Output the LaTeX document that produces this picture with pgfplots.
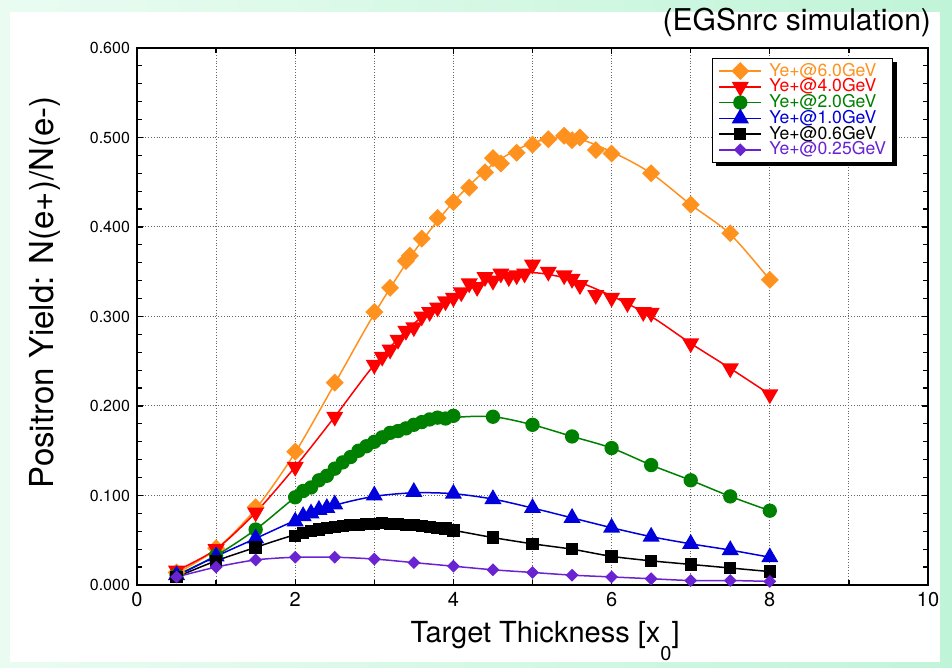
\documentclass[border=0pt]{standalone}
\usepackage{fontspec}
\setmainfont{TeX Gyre Heros}
\usepackage{pgfplots}
\pgfplotsset{compat=1.18}

\definecolor{cOrange}{RGB}{255,145,30}
\definecolor{cRed}{RGB}{255,0,0}
\definecolor{cGreen}{RGB}{0,128,0}
\definecolor{cBlue}{RGB}{0,0,220}
\definecolor{cPurple}{RGB}{105,35,210}
\definecolor{mintA}{RGB}{234,252,242}
\definecolor{mintB}{RGB}{192,244,216}

\pgfplotsset{
  sOrange/.style={cOrange, line width=0.75pt, mark=square*, mark size=2.8pt, mark options={rotate=45, solid}},
  sRed/.style={cRed, line width=0.75pt, mark=triangle*, mark size=4.2pt, mark options={rotate=180, solid}},
  sGreen/.style={cGreen, line width=0.75pt, mark=*, mark size=3.2pt, mark options={solid}},
  sBlue/.style={cBlue, line width=0.75pt, mark=triangle*, mark size=4.2pt, mark options={solid}},
  sBlack/.style={black, line width=0.75pt, mark=square*, mark size=2.7pt, mark options={solid}},
  sPurple/.style={cPurple, line width=0.75pt, mark=square*, mark size=1.9pt, mark options={rotate=45, solid}},
}

% measured points
\pgfplotstableread{
x y
0.5 0.014
1.0 0.041
1.5 0.087
2.0 0.149
2.5 0.226
3.0 0.305
3.2 0.332
3.4 0.362
3.45 0.368
3.6 0.387
3.8 0.410
4.0 0.428
4.2 0.444
4.4 0.461
4.5 0.477
4.6 0.471
4.8 0.483
5.0 0.492
5.2 0.498
5.4 0.502
5.5 0.497
5.6 0.500
5.8 0.486
6.0 0.482
6.5 0.460
7.0 0.425
7.5 0.393
8.0 0.341
}\ptsOrange

\pgfplotstableread{
x y
0.5 0.016
1.0 0.040
1.5 0.081
2.0 0.132
2.5 0.188
3.0 0.246
3.1 0.255
3.2 0.263
3.3 0.274
3.4 0.284
3.5 0.288
3.6 0.300
3.7 0.305
3.8 0.310
3.9 0.317
4.0 0.321
4.1 0.327
4.2 0.337
4.3 0.333
4.4 0.344
4.5 0.340
4.6 0.348
4.7 0.344
4.8 0.346
4.9 0.348
5.0 0.358
5.2 0.350
5.4 0.346
5.5 0.342
5.6 0.335
5.8 0.324
6.0 0.321
6.2 0.315
6.4 0.305
6.5 0.304
7.0 0.270
7.5 0.242
8.0 0.213
}\ptsRed

\pgfplotstableread{
x y
0.5 0.011
1.0 0.033
1.5 0.062
2.0 0.098
2.1 0.105
2.2 0.109
2.3 0.117
2.4 0.122
2.5 0.130
2.6 0.137
2.7 0.143
2.8 0.150
2.9 0.155
3.0 0.160
3.1 0.165
3.2 0.170
3.3 0.172
3.4 0.175
3.5 0.179
3.6 0.182
3.7 0.185
3.8 0.187
3.9 0.186
4.0 0.189
4.5 0.188
5.0 0.179
5.5 0.166
6.0 0.153
6.5 0.134
7.0 0.117
7.5 0.099
8.0 0.083
}\ptsGreen

\pgfplotstableread{
x y
0.5 0.011
1.0 0.032
1.5 0.052
2.0 0.071
2.1 0.077
2.2 0.080
2.3 0.084
2.4 0.086
2.5 0.090
3.0 0.100
3.5 0.104
4.0 0.102
4.5 0.096
5.0 0.086
5.5 0.075
6.0 0.064
6.5 0.054
7.0 0.046
7.5 0.039
8.0 0.031
}\ptsBlue

\pgfplotstableread{
x y
0.5 0.009
1.0 0.027
1.5 0.042
2.0 0.055
2.1 0.058
2.2 0.060
2.3 0.062
2.4 0.064
2.5 0.065
2.6 0.066
2.7 0.067
2.8 0.067
2.9 0.068
3.0 0.068
3.1 0.069
3.2 0.068
3.3 0.068
3.4 0.067
3.5 0.067
3.6 0.066
3.7 0.065
3.8 0.064
3.9 0.063
4.0 0.061
4.5 0.053
5.0 0.046
5.5 0.040
6.0 0.032
6.5 0.027
7.0 0.023
7.5 0.019
8.0 0.015
}\ptsBlack

\pgfplotstableread{
x y
0.5 0.009
1.0 0.020
1.5 0.028
2.0 0.031
2.5 0.031
3.0 0.029
3.5 0.025
4.0 0.021
4.5 0.017
5.0 0.014
5.5 0.011
6.0 0.009
6.5 0.007
7.0 0.005
7.5 0.005
8.0 0.004
}\ptsPurple

% fitted curves
\pgfplotstableread{
x o r g b k
0.5 0.013 0.016 0.011 0.010 0.009
1.0 0.040 0.040 0.033 0.032 0.027
1.5 0.085 0.081 0.062 0.052 0.042
2.0 0.148 0.132 0.098 0.072 0.056
2.5 0.225 0.188 0.130 0.089 0.064
3.0 0.303 0.246 0.161 0.099 0.068
3.5 0.372 0.292 0.179 0.103 0.067
4.0 0.428 0.323 0.187 0.102 0.061
4.5 0.470 0.343 0.188 0.096 0.053
5.0 0.494 0.349 0.179 0.086 0.046
5.5 0.500 0.341 0.166 0.075 0.040
6.0 0.484 0.323 0.153 0.064 0.032
6.5 0.460 0.300 0.134 0.054 0.027
7.0 0.425 0.270 0.117 0.046 0.023
7.5 0.392 0.242 0.099 0.039 0.019
8.0 0.341 0.213 0.083 0.031 0.015
}\fits

\begin{document}
\begin{tikzpicture}
\useasboundingbox (-68.5pt,-41.5pt) rectangle (407.5pt,292.5pt);
\shade[left color=mintA, right color=mintB] (-68.5pt,-41.5pt) rectangle (407.5pt,292.5pt);
\fill[white] (-63.5pt,-38.5pt) rectangle (401.5pt,286.5pt);
\begin{axis}[
    at={(0,0)}, anchor=south west,
    scale only axis,
    width=395.5pt, height=268.5pt,
    xmin=0, xmax=10, ymin=0, ymax=0.6,
    xtick={0,2,4,6,8,10},
    minor xtick={1,3,5,7,9},
    ytick={0,0.1,0.2,0.3,0.4,0.5,0.6},
    minor y tick num=4,
    xmajorgrids, xminorgrids, ymajorgrids,
    major grid style={densely dotted, black!60, line width=0.5pt},
    minor grid style={densely dotted, black!60, line width=0.5pt},
    axis line style={line width=1.2pt},
    tick style={black, line width=0.6pt},
    major tick length=3pt, minor tick length=2.5pt,
    scaled y ticks=false,
    /pgf/number format/assume math mode=true,
    xticklabel style={font=\fontsize{10}{12}\selectfont},
    yticklabel style={font=\fontsize{8}{10}\selectfont,
        /pgf/number format/fixed, /pgf/number format/fixed zerofill,
        /pgf/number format/precision=3},
    xlabel={Target Thickness [x\raisebox{-0.6em}{\fontsize{10}{12}\selectfont 0}]},
    xlabel style={font=\fontsize{14.5}{16}\selectfont, at={(axis description cs:0.516,-0.108)}, anchor=base},
    ylabel={Positron Yield: N(e+)/N(e-)},
    ylabel style={font=\fontsize{16.5}{18}\selectfont, at={(axis description cs:-0.1163,0.545)}, anchor=center},
    legend style={name=leg, at={(0.9558,0.9814)}, anchor=north east, draw=black, line width=0.6pt, fill=white,
        font=\fontsize{8.8}{9}\selectfont,
        inner xsep=3pt, inner ysep=2pt, nodes={inner sep=0.2pt}, row sep=-0.6pt,
        /tikz/every odd column/.append style={column sep=3.5pt}},
    legend cell align=left,
    legend image code/.code={\draw[mark repeat=2,mark phase=2,#1] plot coordinates {(0pt,0pt) (10.5pt,0pt) (21pt,0pt)};},
]
\addlegendimage{sOrange}\addlegendentry{\textcolor{cOrange}{Ye+@6.0GeV}}
\addlegendimage{sRed}\addlegendentry{\textcolor{cRed}{Ye+@4.0GeV}}
\addlegendimage{sGreen}\addlegendentry{\textcolor{cGreen}{Ye+@2.0GeV}}
\addlegendimage{sBlue}\addlegendentry{\textcolor{cBlue}{Ye+@1.0GeV}}
\addlegendimage{sBlack}\addlegendentry{\textcolor{black}{Ye+@0.6GeV}}
\addlegendimage{sPurple}\addlegendentry{\textcolor{cPurple}{Ye+@0.25GeV}}

\addplot[forget plot, cOrange, line width=0.75pt, smooth, no marks] table[x=x, y=o] {\fits};
\addplot[forget plot, sOrange, only marks] table {\ptsOrange};
\addplot[forget plot, cRed, line width=0.75pt, smooth, no marks] table[x=x, y=r] {\fits};
\addplot[forget plot, sRed, only marks] table {\ptsRed};
\addplot[forget plot, cGreen, line width=0.75pt, smooth, no marks] table[x=x, y=g] {\fits};
\addplot[forget plot, sGreen, only marks] table {\ptsGreen};
\addplot[forget plot, cBlue, line width=0.75pt, smooth, no marks] table[x=x, y=b] {\fits};
\addplot[forget plot, sBlue, only marks] table {\ptsBlue};
\addplot[forget plot, black, line width=0.75pt, smooth, no marks] table[x=x, y=k] {\fits};
\addplot[forget plot, sBlack, only marks] table {\ptsBlack};
\addplot[forget plot, cPurple, line width=0.75pt, smooth, no marks] table {\ptsPurple};
\addplot[forget plot, sPurple, only marks] table {\ptsPurple};
\end{axis}
% legend shadow
\fill[black] ([xshift=1.8pt,yshift=-1.8pt]leg.south west) rectangle (leg.south east);
\fill[black] ([yshift=-1.8pt]leg.south east) rectangle ([xshift=1.8pt,yshift=-1.8pt]leg.north east);
\node[anchor=east, font=\fontsize{15}{17}\selectfont] at (400.5pt,281.5pt) {(EGSnrc simulation)};
\end{tikzpicture}
\end{document}
